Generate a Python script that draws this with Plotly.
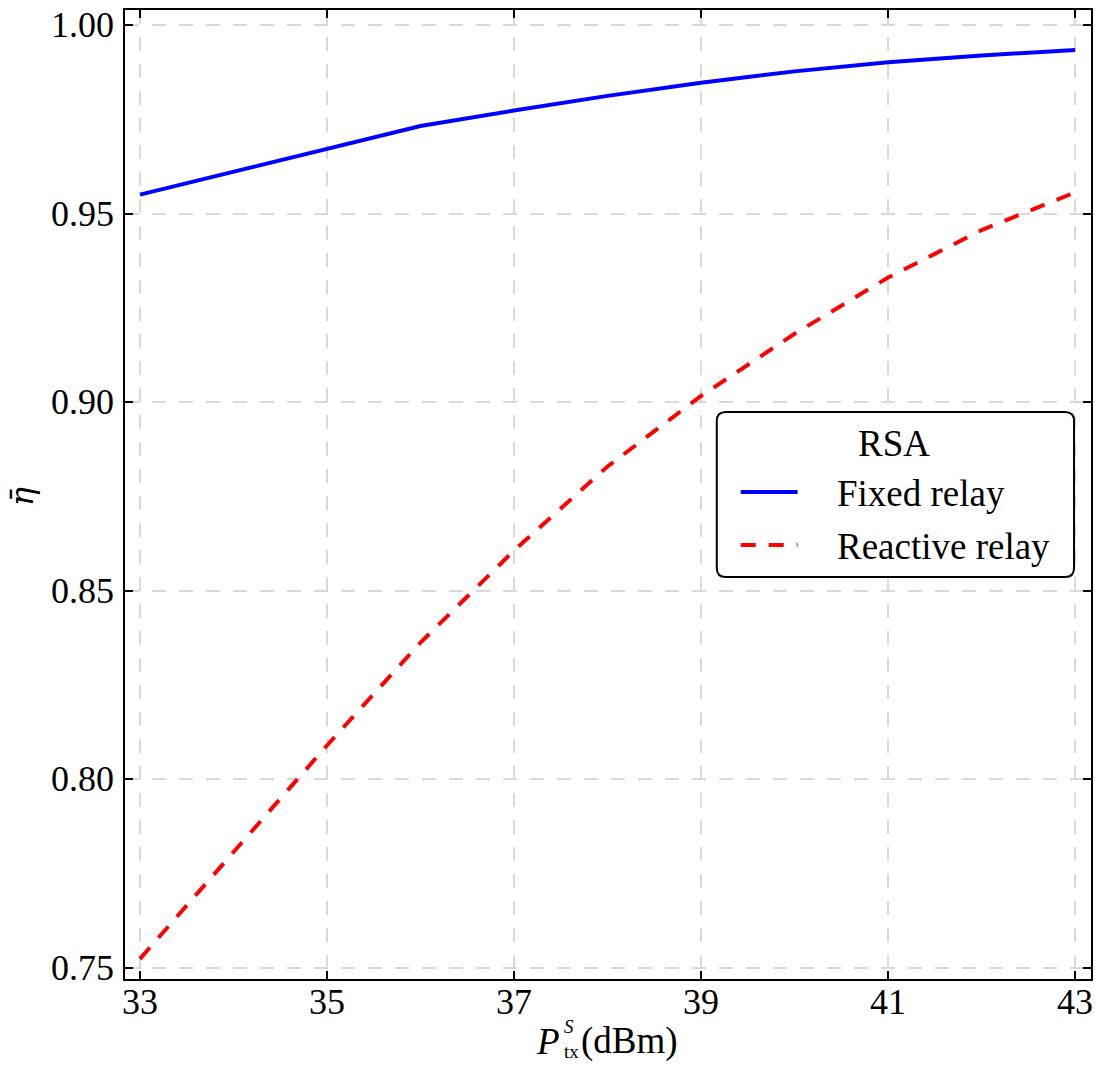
import plotly.graph_objects as go

# ---- data ----
p_tx_dbm = [33, 34, 35, 36, 37, 38, 39, 40, 41, 42, 43]
fixed_relay = [0.9550, 0.9611, 0.9671, 0.9732, 0.9773, 0.9812, 0.9847, 0.9877, 0.9901, 0.9919, 0.9934]
reactive_relay = [0.7523, 0.7806, 0.8089, 0.8362, 0.8606, 0.8829, 0.9016, 0.9181, 0.9330, 0.9456, 0.9556]
x_ticks = [33, 35, 37, 39, 41, 43]
y_ticks = [0.75, 0.80, 0.85, 0.90, 0.95, 1.00]
legend_title = "RSA"
series_names = ["Fixed relay", "Reactive relay"]

FONT = "Liberation Serif"
W, H = 1097, 1066
ML, MR, MT, MB = 125, 4, 10, 87
PW, PH = W - ML - MR, H - MT - MB


def px(x):
    return (x - ML) / PW


def py(y):
    return (H - MB - y) / PH


fig = go.Figure()
fig.add_trace(go.Scatter(x=p_tx_dbm, y=fixed_relay, mode="lines", name=series_names[0],
                         line=dict(color="#0000ff", width=4), showlegend=False))
fig.add_trace(go.Scatter(x=p_tx_dbm, y=reactive_relay, mode="lines", name=series_names[1],
                         line=dict(color="#ff0000", width=4, dash="15px,13px"), showlegend=False))

axis_common = dict(
    showline=True, linecolor="black", linewidth=2, mirror="ticks",
    ticks="inside", ticklen=8, tickwidth=1.5, tickcolor="black",
    showgrid=True, gridcolor="#d9d9d9", gridwidth=1.5, griddash="14px,13px",
    zeroline=False, showticklabels=False,
)

fig.update_xaxes(range=[32.84, 43.17], tickvals=x_ticks, **axis_common)
fig.update_yaxes(range=[0.74695, 1.00398], tickvals=y_ticks, **axis_common)

# tick labels placed through the axes' scales
for v in x_ticks:
    fig.add_annotation(text=str(v), x=v, xref="x", y=py(1002), yref="paper",
                       xanchor="center", yanchor="middle", showarrow=False,
                       font=dict(family=FONT, size=36, color="black"))
for v in y_ticks:
    fig.add_annotation(text=f"{v:.2f}", x=px(116), xref="paper", y=v, yref="y",
                       xanchor="right", yanchor="middle", showarrow=False,
                       font=dict(family=FONT, size=36, color="black"))

# legend box (rounded)
x0, x1 = px(718), px(1076)
y0, y1 = py(577), py(412)
rx, ry = 9 / PW, 9 / PH
path = (f"M {x0+rx},{y1} L {x1-rx},{y1} Q {x1},{y1} {x1},{y1-ry} "
        f"L {x1},{y0+ry} Q {x1},{y0} {x1-rx},{y0} L {x0+rx},{y0} "
        f"Q {x0},{y0} {x0},{y0+ry} L {x0},{y1-ry} Q {x0},{y1} {x0+rx},{y1} Z")
fig.add_shape(type="path", path=path, xref="paper", yref="paper",
              line=dict(color="black", width=2), fillcolor="white", layer="above")
fig.add_shape(type="line", xref="paper", yref="paper", x0=px(742), x1=px(799), y0=py(492), y1=py(492),
              line=dict(color="#0000ff", width=4), layer="above")
fig.add_shape(type="line", xref="paper", yref="paper", x0=px(742), x1=px(799), y0=py(545), y1=py(545),
              line=dict(color="#ff0000", width=4, dash="15px,13px"), layer="above")

ann = []
ann.append(dict(text=legend_title, x=px(896), y=py(443), xanchor="center", yanchor="middle"))
ann.append(dict(text=series_names[0], x=px(836), y=py(493), xanchor="left", yanchor="middle"))
ann.append(dict(text=series_names[1], x=px(836), y=py(546), xanchor="left", yanchor="middle"))
for a in ann:
    a.update(xref="paper", yref="paper", showarrow=False, font=dict(family=FONT, size=37, color="black"))
    fig.add_annotation(**a)

# x-axis title: P_tx^S(dBm)
title_parts = [
    dict(text="<i>P</i>", x=px(562), y=py(1041), xanchor="right", size=37),
    dict(text="<i>S</i><br>tx", x=px(564), y=py(1039), xanchor="left", size=19),
    dict(text="(dBm)", x=px(581), y=py(1041), xanchor="left", size=37),
]
for t in title_parts:
    fig.add_annotation(text=t["text"], x=t["x"], y=t["y"], xref="paper", yref="paper",
                       xanchor=t["xanchor"], yanchor="middle", showarrow=False, borderpad=0,
                       align="left", font=dict(family=FONT, size=t["size"], color="black"))

# y-axis title
fig.add_annotation(text="<i>η̄</i>", x=px(22), y=py(497), xref="paper", yref="paper",
                   xanchor="center", yanchor="middle", textangle=-90, showarrow=False,
                   font=dict(family="DejaVu Serif", size=32, color="black"))

fig.update_layout(width=W, height=H, margin=dict(l=ML, r=MR, t=MT, b=MB),
                  paper_bgcolor="white", plot_bgcolor="white", showlegend=False)

fig.write_html("out.html", config={"displayModeBar": False},
               post_script="document.body.style.margin='0px';document.body.style.overflow='hidden';")
